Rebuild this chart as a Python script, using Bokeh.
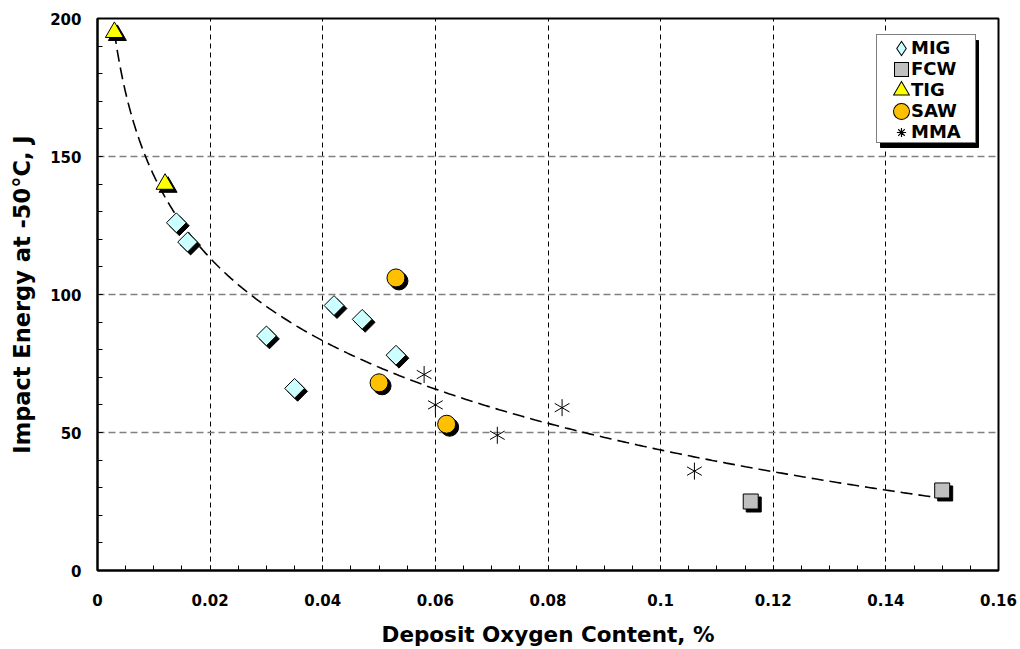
import numpy as np
from bokeh.plotting import figure
from bokeh.models import (Range1d, SingleIntervalTicker, CustomJSTickFormatter,
                          Legend, LegendItem, BoxAnnotation, ColumnDataSource)
from bokeh.transform import dodge
from bokeh.embed import file_html
from bokeh.resources import INLINE

# ---- data ----
mig_x = [0.014, 0.016, 0.030, 0.035, 0.042, 0.047, 0.053]
mig_y = [126, 119, 85, 66, 96, 91, 78]
fcw_x = [0.116, 0.150]
fcw_y = [25, 29]
tig_x = [0.003, 0.012]
tig_y = [195, 140]
saw_x = [0.053, 0.050, 0.062]
saw_y = [106, 68, 53]
mma_x = [0.058, 0.060, 0.071, 0.0825, 0.106]
mma_y = [71, 60, 49, 59, 36]

FONT = "DejaVu Sans"
MIG_C, FCW_C, TIG_C, SAW_C = "#CCFFFF", "#C0C0C0", "#FFFF00", "#FFC000"

p = figure(width=1020, height=649, x_range=Range1d(0, 0.16), y_range=Range1d(0, 200),
           output_backend="svg", toolbar_location=None,
           min_border_left=97, min_border_right=22, min_border_top=18, min_border_bottom=79)
p.background_fill_color = "white"
p.border_fill_color = "white"
p.outline_line_color = "black"
p.outline_line_width = 2

# axes
p.xaxis.ticker = SingleIntervalTicker(interval=0.02, num_minor_ticks=4)
p.yaxis.ticker = SingleIntervalTicker(interval=50, num_minor_ticks=5)
p.xaxis.formatter = CustomJSTickFormatter(code="return String(Number(tick.toFixed(3)));")
for ax in (p.xaxis[0], p.yaxis[0]):
    ax.axis_line_color = "black"
    ax.axis_line_width = 2
    ax.major_tick_in = 5
    ax.major_tick_out = 0
    ax.minor_tick_in = 5
    ax.minor_tick_out = 0
    ax.major_tick_line_color = "black"
    ax.minor_tick_line_color = "black"
    ax.major_label_text_font = FONT
    ax.major_label_text_font_style = "bold"
    ax.major_label_text_font_size = "15px"
    ax.major_label_text_color = "black"
    ax.axis_label_text_font = FONT
    ax.axis_label_text_font_style = "bold"
    ax.axis_label_text_color = "black"
p.xaxis.axis_label = "Deposit Oxygen Content, %"
p.yaxis.axis_label = "Impact Energy at -50°C, J"
p.xaxis.axis_label_text_font_size = "21.5px"
p.yaxis.axis_label_text_font_size = "22.5px"
p.xaxis.major_label_standoff = 23
p.xaxis.axis_label_standoff = 13
p.yaxis.major_label_standoff = 16
p.yaxis.axis_label_standoff = 12

# grids
p.xgrid.grid_line_color = "black"
p.xgrid.grid_line_dash = "5 4"
p.xgrid.grid_line_width = 1
p.ygrid.grid_line_color = "#808080"
p.ygrid.grid_line_dash = "7 4"
p.ygrid.grid_line_width = 1.3

# trendline: logarithmic least-squares fit of all points
all_x = np.array(mig_x + fcw_x + tig_x + saw_x + mma_x)
all_y = np.array(mig_y + fcw_y + tig_y + saw_y + mma_y)
b, a = np.polyfit(np.log(all_x), all_y, 1)
tx = np.linspace(all_x.min(), all_x.max(), 300)
ty = a + b * np.log(tx)
p.line(tx, ty, line_color="black", line_width=1.6, line_dash="12 6")

# shadow offsets (data units, ~3 px)
DX = 0.16 / 901 * 3
DY = -200 / 552 * 3

def series(xs, ys, marker, size, fill, angle=0.0):
    src = ColumnDataSource(dict(x=xs, y=ys))
    p.scatter(x=dodge("x", DX), y=dodge("y", DY), source=src, marker=marker, size=size,
              angle=angle, fill_color="black", line_color="black")
    r = p.scatter(x="x", y="y", source=src, marker=marker, size=size, angle=angle,
                  fill_color=fill, line_color="black", line_width=1)
    return src, r

mig_src, r_mig = series(mig_x, mig_y, "square", 14, MIG_C, angle=np.pi / 4)
fcw_src, r_fcw = series(fcw_x, fcw_y, "square", 15, FCW_C)
tig_src, r_tig = series(tig_x, tig_y, "triangle", 18, TIG_C)
saw_src, r_saw = series(saw_x, saw_y, "circle", 18, SAW_C)
mma_src = ColumnDataSource(dict(x=mma_x, y=mma_y))
r_mma = [p.scatter(x="x", y="y", source=mma_src, marker="dash", size=17, angle=ang,
                   line_color="black", line_width=1)
         for ang in (np.pi / 2, np.pi / 6, -np.pi / 6)]

# hidden renderers used only to draw larger legend swatches
def swatch(src, marker, fill, outer_w, inner_w):
    o = p.scatter(x="x", y="y", source=src, marker=marker, fill_color="black",
                  line_color="black", line_width=outer_w, line_join="miter", visible=False)
    i = p.scatter(x="x", y="y", source=src, marker=marker, fill_color=fill,
                  line_color=fill, line_width=inner_w, line_join="miter", visible=False)
    return [o, i]

lg_mig = swatch(mig_src, "diamond", MIG_C, 4.5, 2.5)
lg_fcw = swatch(fcw_src, "square", FCW_C, 7, 5)
lg_tig = swatch(tig_src, "triangle", TIG_C, 5.5, 3.5)
lg_saw = swatch(saw_src, "circle", SAW_C, 9, 7)
lg_mma = [p.scatter(x="x", y="y", source=mma_src, marker="asterisk", line_color="black",
                    line_width=1.2, line_cap="square", visible=False)]

# legend geometry (pixels)
LG_LEFT, LG_BOTTOM, LG_W, LG_H, SH = 779, 427, 98, 107, 4

# legend shadow (screen units, measured from frame bottom-left)
shadow_box = BoxAnnotation(left=LG_LEFT + SH, right=LG_LEFT + LG_W + SH,
                           bottom=LG_BOTTOM - SH, top=LG_BOTTOM + LG_H - SH,
                           left_units="screen", right_units="screen",
                           bottom_units="screen", top_units="screen",
                           fill_color="black", fill_alpha=1, line_color="black",
                           line_alpha=1)
p.add_layout(shadow_box)

legend = Legend(items=[
    LegendItem(label="MIG", renderers=lg_mig),
    LegendItem(label="FCW", renderers=lg_fcw),
    LegendItem(label="TIG", renderers=lg_tig),
    LegendItem(label="SAW", renderers=lg_saw),
    LegendItem(label="MMA", renderers=lg_mma),
], location=(LG_LEFT, LG_BOTTOM))
legend.padding = dict(left=14, right=2, top=2, bottom=0)
legend.glyph_height = 20
legend.glyph_width = 20
legend.spacing = 0
legend.label_standoff = 0
legend.label_width = 62
legend.label_height = 20
legend.margin = 0
legend.label_text_font = FONT
legend.label_text_font_style = "bold"
legend.label_text_font_size = "18px"
legend.label_text_color = "black"
legend.border_line_color = "black"
legend.border_line_width = 1.5
legend.background_fill_color = "white"
legend.background_fill_alpha = 1
p.add_layout(legend)

open("out.html", "w").write(file_html(p, INLINE))
